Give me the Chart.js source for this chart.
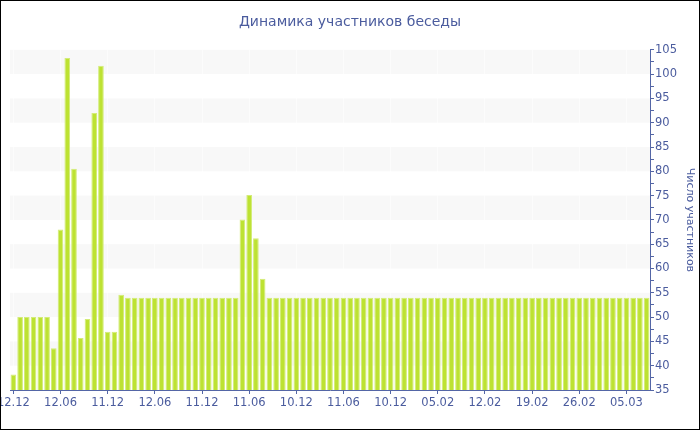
<!DOCTYPE html>
<html>
<head>
<meta charset="utf-8">
<script src="https://cdn.jsdelivr.net/npm/chart.js@4/dist/chart.umd.min.js"></script>
<style>
  html, body { margin: 0; padding: 0; background: #ffffff; }
  #wrap { width: 700px; height: 430px; position: relative; }
</style>
</head>
<body>
<div id="wrap"><canvas id="c" width="700" height="430"></canvas></div>
<script>
// ---- data ----
const participants = [
  38.2, 50, 50, 50, 50, 50, 43.6, 68, 103.3, 80.5,
  45.7, 49.6, 92, 101.7, 47, 47, 54.6, 54, 54, 54,
  54, 54, 54, 54, 54, 54, 54, 54, 54, 54,
  54, 54, 54, 54, 70.1, 75.1, 66.2, 57.9, 54, 54,
  54, 54, 54, 54, 54, 54, 54, 54, 54, 54,
  54, 54, 54, 54, 54, 54, 54, 54, 54, 54,
  54, 54, 54, 54, 54, 54, 54, 54, 54, 54,
  54, 54, 54, 54, 54, 54, 54, 54, 54, 54,
  54, 54, 54, 54, 54, 54, 54, 54, 54, 54,
  54, 54, 54, 54, 54
];
const tickLabels = ['12.12', '12.06', '11.12', '12.06', '11.12', '11.06', '10.12',
                    '11.06', '10.12', '05.02', '12.02', '19.02', '26.02', '05.03'];
const labelEvery = 7;
const categories = participants.map((_, i) => i);
const yMin = 35, yMax = 105;

const textColor = '#4b5c9e';
const axisColor = '#5466a6';
const fontFamily = '"DejaVu Sans", Verdana, sans-serif';

const bandsPlugin = {
  id: 'bands',
  beforeDraw(chart) {
    const { ctx, chartArea } = chart;
    const y = chart.scales.y;
    ctx.save();
    ctx.fillStyle = '#f8f8f8';
    for (let v = yMax; v > yMin; v -= 10) {
      const top = y.getPixelForValue(v);
      const bot = y.getPixelForValue(v - 5);
      ctx.fillRect(chartArea.left, top, chartArea.right - chartArea.left, bot - top);
    }
    ctx.restore();
  },
  afterDraw(chart) {
    const ctx = chart.ctx;
    ctx.save();
    ctx.strokeStyle = '#000000';
    ctx.lineWidth = 1;
    ctx.strokeRect(0.5, 0.5, chart.width - 1, chart.height - 1);
    ctx.restore();
  }
};

new Chart(document.getElementById('c'), {
  type: 'bar',
  data: {
    labels: categories,
    datasets: [{
      data: participants,
      backgroundColor: '#bde232',
      borderColor: '#d3ec78',
      borderWidth: 1,
      barPercentage: 0.84,
      categoryPercentage: 1.0
    }]
  },
  options: {
    responsive: false,
    animation: false,
    layout: { padding: 0 },
    plugins: {
      legend: { display: false },
      tooltip: { enabled: false },
      title: {
        display: true,
        text: 'Динамика участников беседы',
        color: textColor,
        font: { family: fontFamily, size: 14, weight: 'normal' },
        padding: { top: 14, bottom: 19 }
      }
    },
    scales: {
      x: {
        offset: true,
        grid: {
          offset: false,
          drawOnChartArea: true,
          color: ctx => (ctx.index % labelEvery === 0 ? 'rgba(255,255,255,0.6)' : 'rgba(0,0,0,0)'),
          tickColor: ctx => (ctx.index % labelEvery === 0 ? axisColor : 'rgba(0,0,0,0)'),
          tickLength: 4
        },
        border: { color: axisColor, width: 1 },
        ticks: {
          autoSkip: false,
          maxRotation: 0,
          minRotation: 0,
          padding: 2,
          color: textColor,
          font: { family: fontFamily, size: 11.5 },
          callback: (v, i) => (i % labelEvery === 0 ? tickLabels[i / labelEvery] : '')
        },
        afterFit(scale) {
          scale.paddingLeft = 10;
          scale.paddingRight = 0;
          scale.height = 40;
        }
      },
      y: {
        position: 'right',
        min: yMin,
        max: yMax,
        grid: {
          drawOnChartArea: false,
          tickColor: axisColor,
          tickLength: 4
        },
        border: { color: axisColor, width: 1 },
        ticks: {
          stepSize: 2.5,
          autoSkip: false,
          padding: 1,
          color: textColor,
          font: { family: fontFamily, size: 11.5 },
          callback: v => (v % 5 === 0 ? String(v) : '')
        },
        title: {
          display: true,
          text: 'Число участников',
          color: textColor,
          font: { family: fontFamily, size: 11 },
          padding: { top: 4, bottom: 0 }
        },
        afterFit(scale) {
          scale.width = 50;
        }
      }
    }
  },
  plugins: [bandsPlugin]
});
</script>
</body>
</html>
